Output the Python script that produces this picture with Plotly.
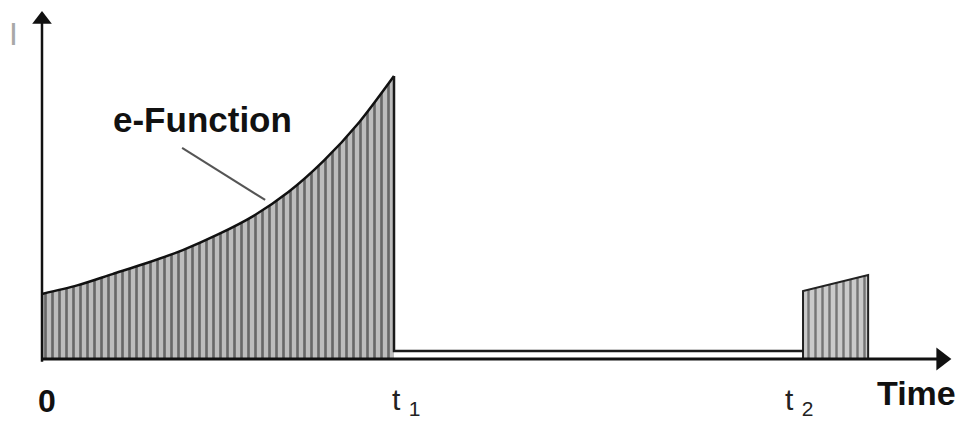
import plotly.graph_objects as go

# rising e-function part (time in units of t1, current normalised to I(t1))
t_rise = [0.0, 0.1, 0.2, 0.3, 0.4, 0.5, 0.6, 0.7, 0.8, 0.9, 1.0]
i_rise = [0.23, 0.26, 0.30, 0.34, 0.385, 0.44, 0.505, 0.59, 0.70, 0.835, 1.0]

# low level between t1 and t2
t1 = 1.0
t2 = 2.162
i_low = 0.028

# second pulse
t_pulse2 = [2.162, 2.347]
i_pulse2 = [0.24, 0.297]

t_axis_end = 2.585
i_axis_end = 1.245

fig = go.Figure()

# hatched area under the e-function
fig.add_trace(go.Scatter(
    x=t_rise, y=i_rise,
    mode='lines', fill='tozeroy', line_shape='spline',
    fillpattern=dict(shape='|', bgcolor='#bdbdbd', fgcolor='#141414', size=7, solidity=0.38),
    line=dict(color='#111111', width=2.5, smoothing=0.8),
    hoverinfo='skip'))

# second pulse
fig.add_trace(go.Scatter(
    x=[t_pulse2[0]] + t_pulse2 + [t_pulse2[-1]],
    y=[0] + i_pulse2 + [0],
    mode='lines', fill='toself',
    fillpattern=dict(shape='|', bgcolor='#cacaca', fgcolor='#202020', size=7, solidity=0.35),
    line=dict(color='#222222', width=2),
    hoverinfo='skip'))

# drop at t1 and low level until t2
fig.add_trace(go.Scatter(
    x=[t1, t1, t2],
    y=[i_rise[-1], i_low, i_low],
    mode='lines', line=dict(color='#1a1a1a', width=2.5),
    hoverinfo='skip'))

# axes
fig.add_trace(go.Scatter(x=[0, t_axis_end - 0.03], y=[0, 0], mode='lines',
                         line=dict(color='#111111', width=3), hoverinfo='skip'))
fig.add_trace(go.Scatter(x=[0, 0], y=[-0.01, i_axis_end - 0.05], mode='lines',
                         line=dict(color='#111111', width=2.5), hoverinfo='skip'))
fig.add_trace(go.Scatter(x=[t_axis_end - 0.03], y=[0], mode='markers',
                         marker=dict(symbol='triangle-right', size=20, color='#111111'),
                         hoverinfo='skip'))
fig.add_trace(go.Scatter(x=[0], y=[i_axis_end - 0.045], mode='markers',
                         marker=dict(symbol='triangle-up', size=17, color='#111111'),
                         hoverinfo='skip'))

# leader line for label
fig.add_shape(type='line', x0=0.398, y0=0.746, x1=0.634, y1=0.562,
              line=dict(color='#555555', width=2))

font = 'Liberation Sans'
fig.add_annotation(x=0.457, y=0.845, text='<b>e-Function</b>', showarrow=False,
                   font=dict(family=font, size=35, color='#111111'))
fig.add_annotation(x=0.014, y=-0.15, text='<b>0</b>', showarrow=False,
                   font=dict(family=font, size=32, color='#111111'))
fig.add_annotation(x=0.99, y=-0.15, text='t <sub>1</sub>', showarrow=False, xanchor='left',
                   font=dict(family=font, size=30, color='#222222'))
fig.add_annotation(x=2.105, y=-0.15, text='t <sub>2</sub>', showarrow=False, xanchor='left',
                   font=dict(family=font, size=30, color='#222222'))
fig.add_annotation(x=2.603, y=-0.12, text='<b>Time</b>', showarrow=False, xanchor='right',
                   font=dict(family=font, size=34, color='#111111'))
fig.add_annotation(x=-0.08, y=1.15, text='I', showarrow=False,
                   font=dict(family=font, size=32, color='#a8a8a8'))

fig.update_layout(
    width=959, height=423,
    margin=dict(l=0, r=0, t=0, b=0),
    paper_bgcolor='white', plot_bgcolor='white',
    showlegend=False,
    xaxis=dict(range=[-42 / 352, 917 / 352], visible=False, fixedrange=True),
    yaxis=dict(range=[-64 / 283, 359 / 283], visible=False, fixedrange=True),
)

fig.write_html("out.html", config={'displayModeBar': False},
               post_script="document.body.style.margin='0px';")
